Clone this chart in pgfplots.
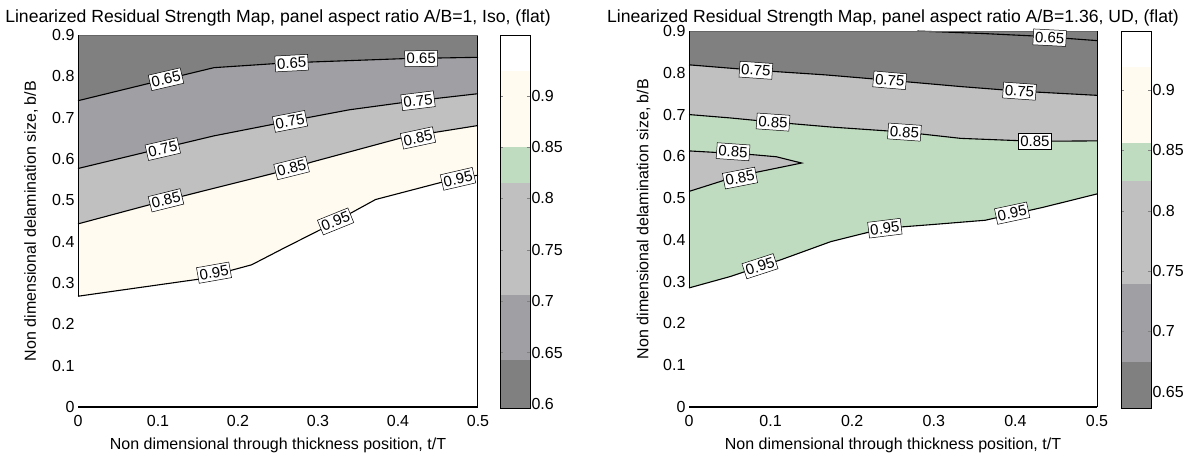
\documentclass[border=0pt]{standalone}
\usepackage{fontspec}
\setmainfont{Liberation Sans}
\usepackage{pgfplots}
\pgfplotsset{compat=1.18}
\definecolor{cdark}{HTML}{808080}
\definecolor{cmed}{HTML}{A0A0A4}
\definecolor{clight}{HTML}{C0C0C0}
\definecolor{cgreen}{HTML}{C0DCC0}
\definecolor{ccream}{HTML}{FFFBF0}
\tikzset{
  cline/.style={black, line width=1.1pt},
  clab/.style={draw=black, line width=0.5pt, fill=white, inner xsep=1.8pt, inner ysep=2.6pt, font=\fontsize{15}{17}\selectfont},
}
\pgfplotsset{
  mainax/.style={
    scale only axis, anchor=south west,
    xmin=0,xmax=0.5,ymin=0,ymax=0.9,
    xtick={0,0.1,0.2,0.3,0.4,0.5},
    ytick={0,0.1,0.2,0.3,0.4,0.5,0.6,0.7,0.8,0.9},
    major tick length=0pt,
    axis line style={draw=none},
    clip=false,
    /pgf/number format/assume math mode=true,
    tick label style={font=\fontsize{16}{19}\selectfont},
    xticklabel style={yshift=-5pt},
    every axis x label/.style={at={(axis description cs:0.5,0)},anchor=base,yshift=-42pt,font=\fontsize{16}{19}\selectfont},
    xlabel={Non dimensional through thickness position, t/T},
    ylabel={Non dimensional delamination size, b/B},
  },
  cbar/.style={
    scale only axis, anchor=south west, width=30pt,
    xmin=0,xmax=1, xtick=\empty,
    axis on top, tick align=inside,
    ytick pos=both, yticklabel pos=right,
    major tick length=3pt,
    axis line style={line width=0.7pt},
    /pgf/number format/assume math mode=true,
    /pgf/number format/fixed,
    tick label style={font=\fontsize{16}{19}\selectfont},
    yticklabel style={xshift=-2pt},
  },
}
\begin{document}
\begin{tikzpicture}
\path[use as bounding box] (0,0) rectangle (1199pt,456pt);
% ---------------- left panel ----------------
\begin{axis}[mainax, at={(78pt,49pt)}, width=400pt, height=372pt,
  every axis y label/.style={at={(axis description cs:-0.1175,0.5)},rotate=90,anchor=center,font=\fontsize{16}{19}\selectfont},
  every axis title/.style={at={(axis description cs:0.5,1)},anchor=base,yshift=13pt,font=\fontsize{17.6}{21}\selectfont},
  title={Linearized Residual Strength Map, panel aspect ratio A/B=1, Iso, (flat)}]
\addplot[fill=ccream,draw=none] coordinates {(0,0.268) (0.15,0.309) (0.217,0.344) (0.255,0.382) (0.305,0.431) (0.372,0.502) (0.457,0.545) (0.5,0.561) (0.5,0.9) (0,0.9)};
\addplot[fill=clight,draw=none] coordinates {(0,0.443) (0.11,0.50) (0.248,0.567) (0.293,0.593) (0.406,0.652) (0.5,0.681) (0.5,0.9) (0,0.9)};
\addplot[fill=cmed,draw=none] coordinates {(0,0.577) (0.105,0.626) (0.17,0.656) (0.265,0.692) (0.339,0.719) (0.423,0.741) (0.5,0.758) (0.5,0.9) (0,0.9)};
\addplot[fill=cdark,draw=none] coordinates {(0,0.741) (0.11,0.793) (0.17,0.821) (0.248,0.831) (0.296,0.835) (0.41,0.843) (0.5,0.846) (0.5,0.9) (0,0.9)};
\addplot[cline] coordinates {(0,0.268) (0.15,0.309) (0.217,0.344) (0.255,0.382) (0.305,0.431) (0.372,0.502) (0.457,0.545) (0.5,0.561)};
\addplot[cline] coordinates {(0,0.443) (0.11,0.50) (0.248,0.567) (0.293,0.593) (0.406,0.652) (0.5,0.681)};
\addplot[cline] coordinates {(0,0.577) (0.105,0.626) (0.17,0.656) (0.265,0.692) (0.339,0.719) (0.423,0.741) (0.5,0.758)};
\addplot[cline] coordinates {(0,0.741) (0.11,0.793) (0.17,0.821) (0.248,0.831) (0.296,0.835) (0.41,0.843) (0.5,0.846)};
% borders
\addplot[black, line width=2pt] coordinates {(0,0) (0.5,0)};
\addplot[black, line width=1pt] coordinates {(0.5,0) (0.5,0.9)};
\addplot[black!60, line width=0.8pt] coordinates {(0,0.9) (0.5,0.9)};
\addplot[black, line width=0.8pt] coordinates {(0,0.268) (0,0.9)};
% labels
\node[clab,rotate=13] at (axis cs:0.11,0.793) {0.65};
\node[clab,rotate=3] at (axis cs:0.267,0.832) {0.65};
\node[clab,rotate=1] at (axis cs:0.429,0.843) {0.65};
\node[clab,rotate=13] at (axis cs:0.106,0.624) {0.75};
\node[clab,rotate=11] at (axis cs:0.265,0.691) {0.75};
\node[clab,rotate=7] at (axis cs:0.425,0.741) {0.75};
\node[clab,rotate=14] at (axis cs:0.11,0.50) {0.85};
\node[clab,rotate=14] at (axis cs:0.267,0.578) {0.85};
\node[clab,rotate=12] at (axis cs:0.425,0.651) {0.85};
\node[clab,rotate=10] at (axis cs:0.17,0.325) {0.95};
\node[clab,rotate=22] at (axis cs:0.322,0.449) {0.95};
\node[clab,rotate=13] at (axis cs:0.475,0.552) {0.95};
\end{axis}
\begin{axis}[cbar, at={(500pt,48pt)}, height=373pt, ymin=0.596, ymax=0.959,
  ytick={0.6,0.65,0.7,0.75,0.8,0.85,0.9}]
\addplot[fill=cdark,draw=none] coordinates {(0,0.596) (1,0.596) (1,0.6424) (0,0.6424)};
\addplot[fill=cmed,draw=none] coordinates {(0,0.6424) (1,0.6424) (1,0.7056) (0,0.7056)};
\addplot[fill=clight,draw=none] coordinates {(0,0.7056) (1,0.7056) (1,0.8146) (0,0.8146)};
\addplot[fill=cgreen,draw=none] coordinates {(0,0.8146) (1,0.8146) (1,0.85) (0,0.85)};
\addplot[fill=ccream,draw=none] coordinates {(0,0.85) (1,0.85) (1,0.9236) (0,0.9236)};
\addplot[fill=white,draw=none] coordinates {(0,0.9236) (1,0.9236) (1,0.959) (0,0.959)};
\end{axis}
% ---------------- right panel ----------------
\begin{axis}[mainax, at={(689pt,49pt)}, width=408pt, height=376pt,
  every axis y label/.style={at={(axis description cs:-0.1115,0.5)},rotate=90,anchor=center,font=\fontsize{16}{19}\selectfont},
  every axis title/.style={at={(axis description cs:0.5,1)},anchor=base,yshift=9pt,font=\fontsize{17.6}{21}\selectfont},
  title={Linearized Residual Strength Map, panel aspect ratio A/B=1.36, UD, (flat)}]
\addplot[fill=cgreen,draw=none] coordinates {(0,0.285) (0.05,0.312) (0.112,0.352) (0.174,0.396) (0.24,0.428) (0.30,0.437) (0.363,0.447) (0.434,0.478) (0.5,0.51) (0.5,0.9) (0,0.9)};
\addplot[fill=clight,draw=none] coordinates {(0,0.70) (0.05,0.692) (0.103,0.682) (0.175,0.670) (0.264,0.658) (0.333,0.643) (0.424,0.636) (0.5,0.637) (0.5,0.9) (0,0.9)};
\addplot[fill=cdark,draw=none] coordinates {(0,0.819) (0.082,0.806) (0.167,0.795) (0.246,0.782) (0.333,0.767) (0.405,0.756) (0.5,0.746) (0.5,0.9) (0,0.9)};
\addplot[fill=clight,draw=none] coordinates {(0,0.613) (0.054,0.607) (0.078,0.604) (0.107,0.599) (0.138,0.584) (0.083,0.562) (0.042,0.542) (0,0.516)};
\addplot[cline] coordinates {(0,0.285) (0.05,0.312) (0.112,0.352) (0.174,0.396) (0.24,0.428) (0.30,0.437) (0.363,0.447) (0.434,0.478) (0.5,0.51)};
\addplot[cline] coordinates {(0,0.70) (0.05,0.692) (0.103,0.682) (0.175,0.670) (0.264,0.658) (0.333,0.643) (0.424,0.636) (0.5,0.637)};
\addplot[cline] coordinates {(0,0.819) (0.082,0.806) (0.167,0.795) (0.246,0.782) (0.333,0.767) (0.405,0.756) (0.5,0.746)};
\addplot[cline] coordinates {(0.28,0.9) (0.36,0.894) (0.424,0.888) (0.5,0.877)};
\addplot[cline] coordinates {(0,0.613) (0.054,0.607) (0.078,0.604) (0.107,0.599) (0.138,0.584) (0.083,0.562) (0.042,0.542) (0,0.516)};
\addplot[black, line width=2pt] coordinates {(0,0) (0.5,0)};
\addplot[black, line width=1pt] coordinates {(0.5,0) (0.5,0.9)};
\addplot[black!60, line width=0.8pt] coordinates {(0,0.9) (0.5,0.9)};
\addplot[black, line width=0.8pt] coordinates {(0,0.285) (0,0.9)};
\node[clab,rotate=-3] at (axis cs:0.442,0.884) {0.65};
\node[clab,rotate=-4] at (axis cs:0.082,0.806) {0.75};
\node[clab,rotate=-5] at (axis cs:0.246,0.782) {0.75};
\node[clab,rotate=-4] at (axis cs:0.405,0.756) {0.75};
\node[clab,rotate=-4] at (axis cs:0.103,0.682) {0.85};
\node[clab,rotate=-4] at (axis cs:0.264,0.658) {0.85};
\node[clab,rotate=0] at (axis cs:0.424,0.636) {0.85};
\node[clab,rotate=-4] at (axis cs:0.054,0.611) {0.85};
\node[clab,rotate=11] at (axis cs:0.0625,0.548) {0.85};
\node[clab,rotate=18] at (axis cs:0.087,0.337) {0.95};
\node[clab,rotate=7] at (axis cs:0.24,0.428) {0.95};
\node[clab,rotate=12] at (axis cs:0.396,0.464) {0.95};
\end{axis}
\begin{axis}[cbar, at={(1121pt,48pt)}, height=377pt, ymin=0.6365, ymax=0.949,
  ytick={0.65,0.7,0.75,0.8,0.85,0.9}]
\addplot[fill=cdark,draw=none] coordinates {(0,0.6365) (1,0.6365) (1,0.6749) (0,0.6749)};
\addplot[fill=cmed,draw=none] coordinates {(0,0.6749) (1,0.6749) (1,0.7395) (0,0.7395)};
\addplot[fill=clight,draw=none] coordinates {(0,0.7395) (1,0.7395) (1,0.825) (0,0.825)};
\addplot[fill=cgreen,draw=none] coordinates {(0,0.825) (1,0.825) (1,0.856) (0,0.856)};
\addplot[fill=ccream,draw=none] coordinates {(0,0.856) (1,0.856) (1,0.9188) (0,0.9188)};
\addplot[fill=white,draw=none] coordinates {(0,0.9188) (1,0.9188) (1,0.949) (0,0.949)};
\end{axis}
\end{tikzpicture}
\end{document}
